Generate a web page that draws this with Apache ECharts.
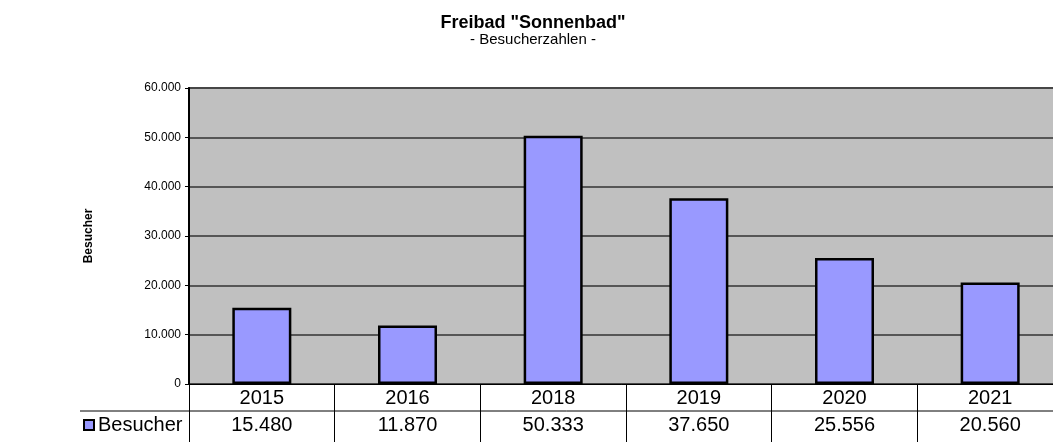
<!DOCTYPE html>
<html>
<head>
<meta charset="utf-8">
<title>Freibad Sonnenbad</title>
<script src="https://cdn.jsdelivr.net/npm/echarts@6/dist/echarts.min.js"></script>
<style>
html, body { margin: 0; padding: 0; background: #fff; }
#myChart { width: 1053px; height: 442px; }
</style>
</head>
<body>
<div id="myChart"></div>
<script>
// Jahre (Kategorien)
const years = ['2015', '2016', '2018', '2019', '2020', '2021']
// Besucher pro Jahr
const visitors = [15480, 11870, 50333, 37650, 25556, 20560]
// Skala der y-Achse
const yMin = 0
const yMax = 60000
const yStep = 10000

// Tausenderpunkt wie in Excel (de)
function fmt (v) {
  return String(v).replace(/\B(?=(\d{3})+(?!\d))/g, '.')
}

let myChart = echarts.init(document.getElementById('myChart'))
myChart.setOption({
  animation: false,
  backgroundColor: '#fff',
  textStyle: { fontFamily: 'Liberation Sans, Arial, sans-serif' },
  title: [{
    text: 'Freibad "Sonnenbad"',
    left: 528,
    top: 9,
    textAlign: 'center',
    textStyle: { fontSize: 18, fontWeight: 'bold', color: '#000' }
  }, {
    text: '- Besucherzahlen -',
    left: 528,
    top: 27,
    textAlign: 'center',
    textStyle: { fontSize: 15, fontWeight: 'normal', color: '#000' }
  }],
  legend: {
    left: 83,
    top: 415,
    padding: 0,
    icon: 'rect',
    itemWidth: 10,
    itemHeight: 10,
    textStyle: { fontSize: 20, color: '#000', padding: [0, 0, 0, -1] },
    data: ['Besucher']
  },
  grid: {
    left: 189,
    top: 88,
    width: 874,
    height: 296,
    // Diagramm ragt rechts über den Rand hinaus (wie im Original)
    outerBoundsMode: 'none',
    show: true,
    backgroundColor: '#c0c0c0',
    borderColor: '#808080',
    borderWidth: 2
  },
  xAxis: [{
    type: 'category',
    data: years,
    position: 'bottom',
    boundaryGap: true,
    axisLine: { show: true, lineStyle: { color: '#000', width: 1 } },
    // Spaltentrenner der Datentabelle
    axisTick: { show: true, interval: 0, length: 60, lineStyle: { color: '#000', width: 1 } },
    axisLabel: { interval: 0, margin: 4, fontSize: 20, color: '#000' }
  }, {
    type: 'category',
    data: visitors.map(fmt),
    position: 'bottom',
    offset: 27,
    boundaryGap: true,
    axisLine: { show: false },
    axisTick: { show: false },
    axisLabel: { interval: 0, margin: 4, fontSize: 20, color: '#000' }
  }],
  yAxis: {
    type: 'value',
    min: yMin,
    max: yMax,
    interval: yStep,
    name: 'Besucher',
    nameLocation: 'middle',
    nameRotate: 90,
    nameGap: 94,
    nameTextStyle: { fontSize: 12, fontWeight: 'bold', color: '#000' },
    axisLine: { show: true, lineStyle: { color: '#000', width: 2 } },
    axisTick: { show: true, length: 4, lineStyle: { color: '#000' } },
    axisLabel: { fontSize: 12, color: '#000', margin: 8, formatter: fmt },
    splitLine: { show: true, lineStyle: { color: '#333', width: 1.5 } }
  },
  // waagerechte Linie der Datentabelle
  graphic: [{
    type: 'line',
    shape: { x1: 80, y1: 411, x2: 1053, y2: 411 },
    style: { stroke: '#000', lineWidth: 1 },
    z: 10
  }],
  series: [{
    name: 'Besucher',
    type: 'bar',
    xAxisIndex: 0,
    barWidth: 59,
    itemStyle: { color: '#9999ff', borderColor: '#000', borderWidth: 2.5 },
    data: visitors
  }]
})
</script>
</body>
</html>
